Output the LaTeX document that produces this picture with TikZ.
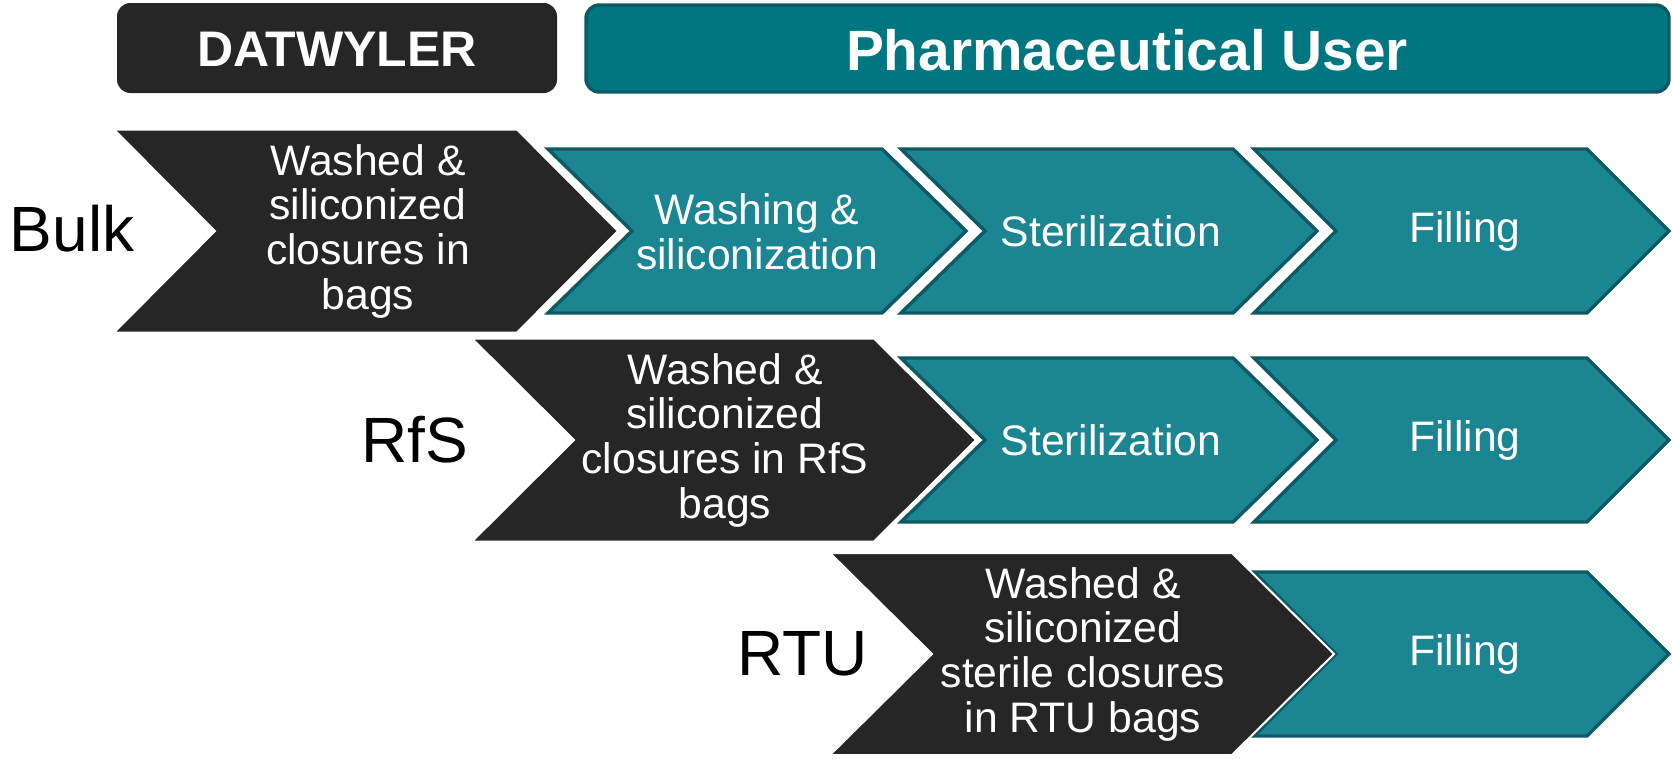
\documentclass[tikz,border=0pt]{standalone}
\usepackage{fontspec}
\setmainfont{Liberation Sans}

\definecolor{charcoal}{RGB}{38,38,38}
\definecolor{tealfill}{RGB}{27,133,145}
\definecolor{tealedge}{RGB}{13,90,99}
\definecolor{headteal}{RGB}{0,118,128}

% chevron: style, left x, centre y, body width, half height, point depth
\newcommand{\chev}[6]{%
  \filldraw[#1] (#2,#3-#5) -- ++(#4,0) -- ++(#6,#5) -- ++(-#6,#5)
    -- ++(-#4,0) -- ++(#6,-#5) -- cycle;}

\tikzset{
  darkchev/.style={fill=charcoal, draw=white, line width=1.5pt, line join=miter},
  tealchev/.style={fill=tealfill, draw=tealedge, line width=2.6pt, line join=miter},
  steptext/.style={text=white, align=center, inner sep=0pt,
    font=\fontsize{32}{33.5}\selectfont},
  rowlabel/.style={text=black, inner sep=0pt, font=\fontsize{48}{50}\selectfont},
  headtext/.style={text=white, inner sep=0pt, font=\bfseries}
}

\begin{document}
\begin{tikzpicture}[x=0.75pt,y=-0.75pt]
\useasboundingbox (0,0) rectangle (1672,758);

% header bars
\fill[charcoal, rounded corners=10pt] (117,3) rectangle (557,93);
\filldraw[fill=headteal, draw=tealedge, line width=2.6pt, rounded corners=10pt]
  (586,5) rectangle (1669,92);
\node[headtext, font=\bfseries\fontsize{37.5}{40}\selectfont] (datwyler) at (337,49) {DATWYLER};
\node[headtext, font=\bfseries\fontsize{42.6}{46}\selectfont] (pharma) at (1127,50) {Pharmaceutical User};

% user steps (teal)
\chev{tealchev}{548}{231}{334}{82}{84}
\chev{tealchev}{901}{231}{332}{82}{84}
\chev{tealchev}{1254}{231}{333}{82}{82}
\chev{tealchev}{901}{440}{332}{82}{84}
\chev{tealchev}{1254}{440}{333}{82}{82}
\chev{tealchev}{1254}{654}{333}{82}{82}

% supplier steps (dark)
\chev{darkchev}{114}{231}{403}{101.5}{101}
\chev{darkchev}{472}{440}{402}{101.5}{102}
\chev{darkchev}{830}{654}{402}{101}{102}

% row labels
\node[rowlabel] (bulk) at (72,229) {Bulk};
\node[rowlabel] (rfs) at (415,440) {RfS};
\node[rowlabel] (rtu) at (803,654) {RTU};

% step texts
\node[steptext] (bulksup) at (368,231) {Washed \&\\siliconized\\closures in\\bags};
\node[steptext] (rfssup) at (725,440) {Washed \&\\siliconized\\closures in RfS\\bags};
\node[steptext] (rtusup) at (1083,654) {Washed \&\\siliconized\\sterile closures\\in RTU bags};

\node[steptext] (bulkwash) at (757,232) {Washing \&\\siliconization};
\node[steptext] (bulkster) at (1111,231) {Sterilization};
\node[steptext] (bulkfill) at (1465,231) {Filling};
\node[steptext] (rfsster) at (1111,440) {Sterilization};
\node[steptext] (rfsfill) at (1465,440) {Filling};
\node[steptext] (rtufill) at (1465,654) {Filling};
\end{tikzpicture}
\end{document}
